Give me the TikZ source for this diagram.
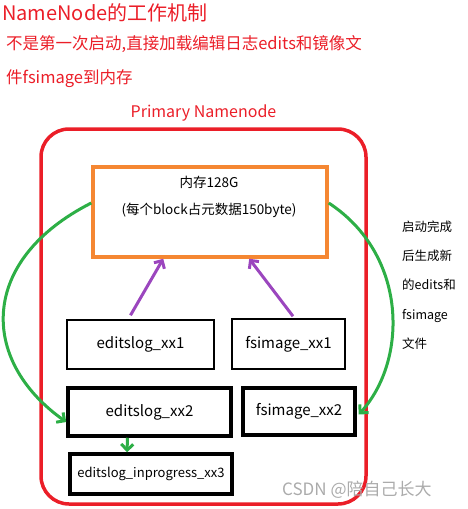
\documentclass[tikz,border=0pt]{standalone}
\usepackage{fontspec}
\setmainfont{Noto Sans CJK SC}
\usetikzlibrary{positioning, arrows.meta}
\definecolor{nnred}{RGB}{235,30,40}
\definecolor{nnorange}{RGB}{245,135,50}
\definecolor{nngreen}{RGB}{45,175,70}
\definecolor{nnpurple}{RGB}{155,70,190}
\newcommand{\filenode}[3]{\node[draw, #3] (#1) {#2};}
\newcommand{\flowedge}[3]{\draw[->, #3] (#1) to (#2);}
\newcommand{\fs}[2]{\fontsize{#1}{#2}\selectfont}

\begin{document}
\begin{tikzpicture}[x=1pt, y=-1pt, >={Straight Barb[length=6pt, width=12pt]},
  thinfile/.style={line width=1.5pt, inner sep=0pt, font=\fs{15}{18}},
  thickfile/.style={line width=3.5pt, inner sep=0pt, font=\fs{15}{18}}]
\useasboundingbox (0,0) rectangle (468,509);

% heading in red
\node[anchor=west, inner sep=0, text=nnred, font=\fs{20}{24}] (title) at (2,13) {NameNode的工作机制};
\node[anchor=west, inner sep=0, text=nnred, font=\fs{16.5}{20}] (note1) at (6,44) {不是第一次启动,直接加载编辑日志edits和镜像文};
\node[anchor=west, inner sep=0, text=nnred, font=\fs{16.5}{20}] (note2) at (6,79) {件fsimage到内存};

\filenode{primary}{}{draw=nnred, line width=3.5pt, rounded corners=28pt, minimum width=325, minimum height=375, at={(203.5,316.5)}};
\node[above=6pt of primary, text=nnred, font=\fs{16}{20}, inner sep=0] (primlabel) {Primary Namenode};

\filenode{mem}{}{draw=nnorange, line width=3.5pt, minimum width=234, minimum height=90, at={(210,212)}};
\node[align=center, font=\fs{13.5}{27}, inner sep=0] (memtext) at (209,197) {内存128G\\(每个block占元数据150byte)};

\filenode{edits1}{editslog\_xx1}{thinfile, minimum width=147, minimum height=49, at={(140.5,344.5)}};
\filenode{fsimage1}{fsimage\_xx1}{thinfile, minimum width=113, minimum height=50, at={(288.5,344)}};
\filenode{edits2}{editslog\_xx2}{thickfile, minimum width=163, minimum height=48, at={(149.5,412)}};
\filenode{fsimage2}{fsimage\_xx2}{thickfile, minimum width=112, minimum height=47, at={(299,411.5)}};
\filenode{progress3}{editslog\_inprogress\_xx3}{thickfile, font=\fs{13}{16}, minimum width=162, minimum height=40, at={(151,474)}};

\flowedge{[xshift=-10pt,yshift=4pt]edits1.north}{mem.225}{nnpurple, line width=3pt};
\flowedge{[xshift=4.5pt,yshift=2pt]fsimage1.north}{mem.310}{nnpurple, line width=3pt};

\draw[->, nngreen, line width=3pt] ([yshift=9pt]mem.west) .. controls (-21,260) and (-21,360) .. ([yshift=-10pt]edits2.west);
\draw[->, nngreen, line width=3pt] ([yshift=9pt]mem.east) .. controls (408,255) and (408,360) .. ([xshift=2pt,yshift=-3pt]fsimage2.east);
\flowedge{[xshift=-22pt]edits2.south}{[xshift=-24pt]progress3.north}{nngreen, line width=3pt};

\node[anchor=west, align=left, inner sep=0, font=\fs{12.5}{29.3}] (aftertext) at (402,285) {启动完成\\后生成新\\的edits和\\fsimage\\文件};

\node[anchor=west, inner sep=0, text=black!33, font=\fs{17}{20}] (mark) at (282,490) {CSDN @陪自己长大};
\end{tikzpicture}
\end{document}
